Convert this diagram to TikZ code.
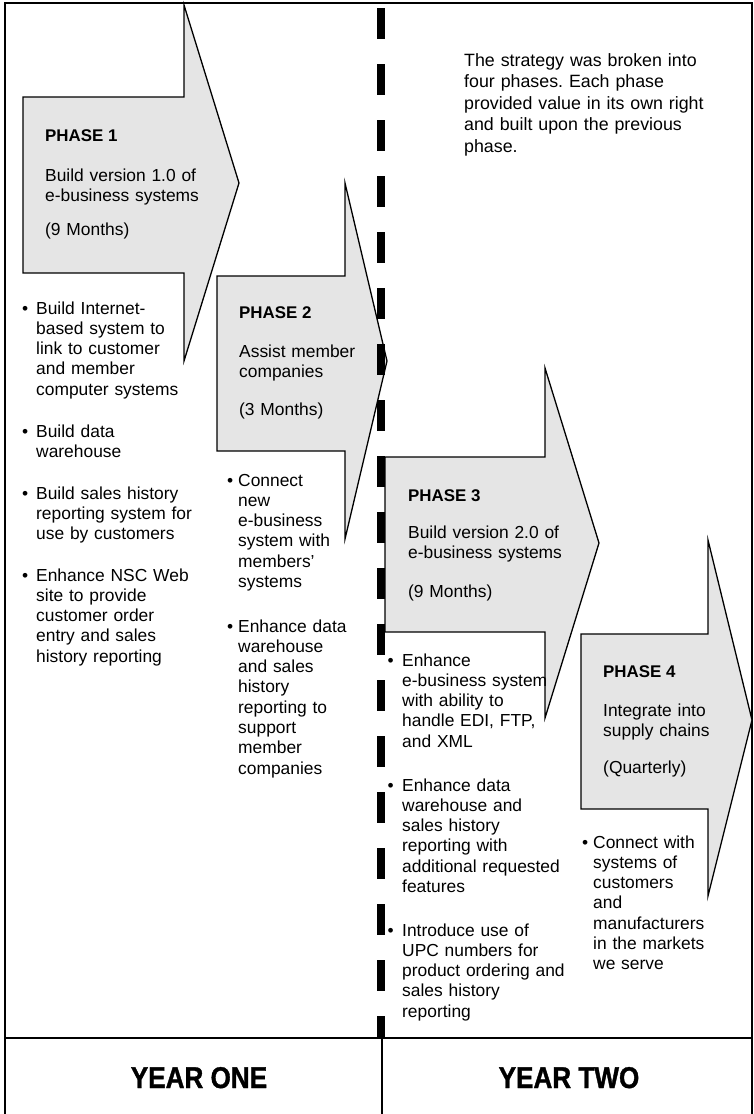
\documentclass[tikz,border=0pt]{standalone}
\usepackage{fontspec}
\setmainfont{Liberation Sans}
\newfontfamily\yearfont[FakeStretch=0.87,BoldFeatures={FakeBold=1.2,FakeStretch=0.87}]{Liberation Sans}
\newcommand\bl[1]{\llap{\textbullet\hspace{#1}}}
\frenchspacing
\begin{document}
\begin{tikzpicture}[x=1pt,y=-1pt,
  arrowshape/.style={draw=black,line width=1.3pt,fill=black!10,line join=miter},
  frame/.style={draw=black,line width=1.2pt},
  txt/.style={font=\fontsize{17.4pt}{20.3pt}\selectfont,inner sep=0pt,anchor=base west,align=left,text width=220pt},
  intro/.style={font=\fontsize{17.8pt}{21.6pt}\selectfont,inner sep=0pt,anchor=base west,align=left,text width=280pt},
  head/.style={font=\bfseries\fontsize{16.9pt}{20pt}\selectfont,inner sep=0pt,anchor=base west},
  year/.style={font=\yearfont\bfseries\fontsize{30pt}{34pt}\selectfont,inner sep=0pt,anchor=base}]
\useasboundingbox (0,0) rectangle (753,1114);
% frame
\draw[frame] (5,1120) -- (5,3) -- (752,3) -- (752,1120);
\draw[frame] (5,1038) -- (752,1038);
\coordinate (ytop) at (382,1038);
\coordinate (ybot) at (382,1120);
\draw[frame] (ytop) -- (ybot);
% arrows
\draw[arrowshape] (23,97) -- (184,97) -- (184,5) -- (239,183) -- (184,361) -- (184,273) -- (23,273) -- cycle;
\draw[arrowshape] (217,276) -- (345,276) -- (345,183) -- (387,361) -- (345,539) -- (345,451) -- (217,451) -- cycle;
\draw[arrowshape] (385,457) -- (545,457) -- (545,368) -- (599,543) -- (545,718) -- (545,632) -- (385,632) -- cycle;
\draw[arrowshape] (581,634) -- (708,634) -- (708,540) -- (752,720) -- (708,896) -- (708,809) -- (581,809) -- cycle;
% dashed divider
\coordinate (dtop) at (381,8);
\coordinate (dbot) at (381,1038);
\draw[line width=8pt,dash pattern=on 31pt off 25pt] (dtop) -- (dbot);
% intro
\node[intro] (intro) at (464,66) {The strategy was broken into\\four phases. Each phase\\provided value in its own right\\and built upon the previous\\phase.};
% phase 1
\node[head] (h1) at (45,141) {PHASE 1};
\node[txt] (d1) at (45,181) {Build version 1.0 of\\e-business systems};
\node[txt] (m1) at (45,235) {(9 Months)};
\node[txt] (b1a) at (36,314) {\bl{8pt}Build Internet-\\based system to\\link to customer\\and member\\computer systems};
\node[txt] (b1b) at (36,437) {\bl{8pt}Build data\\warehouse};
\node[txt] (b1c) at (36,499) {\bl{8pt}Build sales history\\reporting system for\\use by customers};
\node[txt] (b1d) at (36,581) {\bl{8pt}Enhance NSC Web\\site to provide\\customer order\\entry and sales\\history reporting};
% phase 2
\node[head] (h2) at (239,318) {PHASE 2};
\node[txt] (d2) at (239,357) {Assist member\\companies};
\node[txt] (m2) at (239,415) {(3 Months)};
\node[txt] (b2a) at (238,486) {\bl{5pt}Connect\\new\\e-business\\system with\\members'\\systems};
\node[txt] (b2b) at (238,632) {\bl{5pt}Enhance data\\warehouse\\and sales\\history\\reporting to\\support\\member\\companies};
% phase 3
\node[head] (h3) at (408,501) {PHASE 3};
\node[txt] (d3) at (408,538) {Build version 2.0 of\\e-business systems};
\node[txt] (m3) at (408,597) {(9 Months)};
\node[txt] (b3a) at (402,666) {\bl{8.5pt}Enhance\\e-business system\\with ability to\\handle EDI, FTP,\\and XML};
\node[txt] (b3b) at (402,791) {\bl{8.5pt}Enhance data\\warehouse and\\sales history\\reporting with\\additional requested\\features};
\node[txt] (b3c) at (402,936) {\bl{8.5pt}Introduce use of\\UPC numbers for\\product ordering and\\sales history\\reporting};
% phase 4
\node[head] (h4) at (603,677) {PHASE 4};
\node[txt] (d4) at (603,716) {Integrate into\\supply chains};
\node[txt] (m4) at (603,773) {(Quarterly)};
\node[txt] (b4a) at (593,848) {\bl{5pt}Connect with\\systems of\\customers\\and\\manufacturers\\in the markets\\we serve};
% years
\node[year] (y1) at (199,1088) {YEAR ONE};
\node[year] (y2) at (569,1088) {YEAR TWO};
\end{tikzpicture}
\end{document}
